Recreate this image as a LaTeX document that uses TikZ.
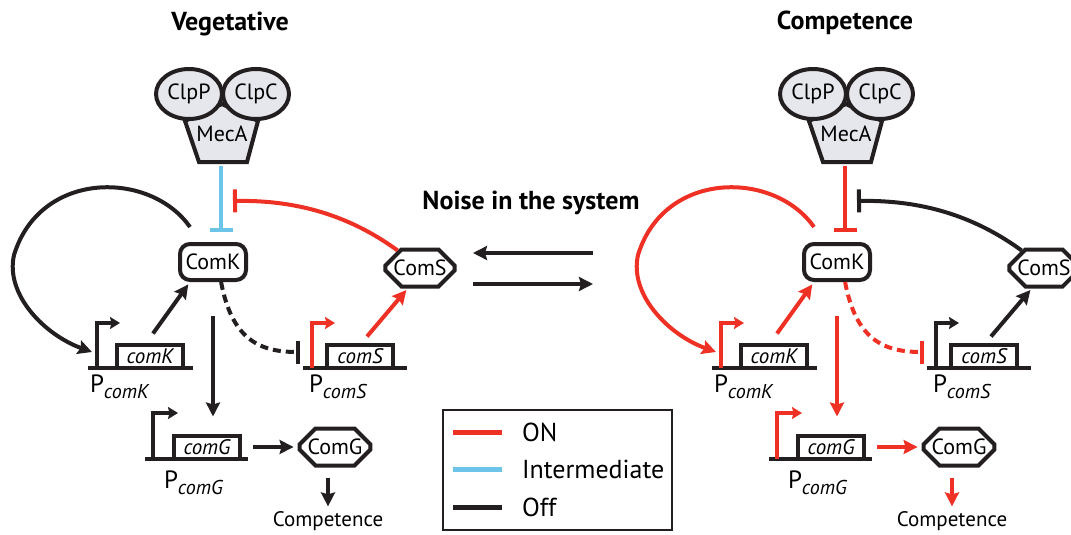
\documentclass[tikz,border=0pt]{standalone}
\usepackage{fontspec}
\setmainfont{PT Sans}
\usepackage{tikz}
\usetikzlibrary{arrows.meta}
\usetikzlibrary{shapes.geometric}
\usetikzlibrary{shapes.misc}
\usetikzlibrary{positioning}

\definecolor{onred}{HTML}{EE3124}
\definecolor{midblue}{HTML}{6CC4E8}
\definecolor{offblk}{HTML}{231F20}
\definecolor{clpgray}{HTML}{E6E7EC}

\newcommand{\promlbl}[1]{{\fontsize{25}{27}\selectfont P}\raisebox{-6pt}{\itshape #1}}

% #1 comK loop, #2 MecA, #3 ComS inhibition, #4 dashed, #5 comS branch, #6 comG branch
\newcommand{\comnet}[6]{%
  \draw[pent] (222,104) -- (185,121) -- (199,162) -- (247,162) -- (258,121) -- cycle;
  \node[clp] (clpP) at (189,94) {ClpP};
  \node[clp] (clpC) at (256,94) {ClpC};
  \node[txt] (mecA) at (222,134) {MecA};
  \coordinate (mecB) at (221,166);
  \node[comk] (comK) at (213,262) {ComK};
  \node[oct]  (comS) at (420,268) {ComS};
  \node[oct]  (comG) at (335,447) {ComG};
  \node[txt]  (compet) at (328,521) {\fontsize{21}{23}\selectfont Competence};
  \node[gene] (gK) at (150,356) {comK};
  \node[gene] (gS) at (360,356) {comS};
  \node[gene] (gG) at (207,447) {comG};
  \draw[offblk] (88,368) -- (193,368);
  \draw[offblk] (303,368) -- (407,368);
  \draw[offblk] (145,459) -- (248,459);
  \coordinate (pK) at (97,368);
  \coordinate (pS) at (312,368);
  \coordinate (pG) at (153,459);
  \coordinate (loopS) at (190,227);
  \coordinate (sBar) at (233,201);
  \coordinate (kBar) at (300,352);
  \node[plbl] (lK) at (88,392) {\promlbl{comK}};
  \node[plbl] (lS) at (307,392) {\promlbl{comS}};
  \node[plbl] (lG) at (162,488) {\promlbl{comG}};
  \draw[prom,#1] (pK) -- ++(0,-45) -- ++(23,0);
  \draw[prom,#5] (pS) -- ++(0,-45) -- ++(23,0);
  \draw[prom,#6] (pG) -- ++(0,-46) -- ++(25,0);
  \draw[act,#1] (loopS) .. controls (150,170) and (40,170) .. (14,255)
                        .. controls (5,295) and (45,335) .. ([xshift=-5pt]pK |- kBar);
  \draw[act,#1,shorten >=3pt] ([shift={(3,-9)}]gK.north) -- (comK.-139);
  \draw[inh,#2,shorten >=10pt] (mecB) -- (mecB |- comK.north);
  \draw[inh,#3] (comS.142) .. controls (345,212) and (290,200) .. (sBar);
  \draw[inh,#4,dash pattern=on 8pt off 5pt] (comK.-68) .. controls (232,340) and (260,352) .. (kBar);
  \draw[act,#5,shorten >=2pt] ([shift={(7,-6)}]gS.north) -- (comS.-121);
  \draw[act,#6,shorten <=34pt,shorten >=17pt] (comK.south) -- (comK.south |- gG.north);
  \draw[act,#6,shorten <=11pt,shorten >=4pt] (gG.east) -- (comG.west);
  \draw[act,#6,shorten <=10pt,shorten >=3pt] (comG.south -| compet) -- (compet.north);
}

\begin{document}
\begin{tikzpicture}[x=1pt, y=-1pt,
                    >={Stealth[length=14pt,width=14pt,inset=2pt]},
                    line width=4pt,
                    act/.style={->},
                    inh/.style={-{Bar[width=23pt]}},
                    prom/.style={-{Stealth[length=10pt,width=12pt,inset=1.5pt]}},
                    txt/.style={font=\fontsize{22}{24}\selectfont, inner sep=0pt},
                    ttl/.style={font=\fontsize{26}{28}\selectfont\bfseries},
                    clp/.style={ellipse, draw=offblk, fill=clpgray, minimum width=66pt,
                                minimum height=50pt, inner sep=0pt, txt},
                    pent/.style={draw=offblk, fill=clpgray, line join=miter},
                    comk/.style={rectangle, draw=offblk, rounded corners=10pt,
                                 minimum width=66pt, minimum height=36pt, txt},
                    oct/.style={chamfered rectangle, draw=offblk, chamfered rectangle xsep=8pt,
                                chamfered rectangle ysep=8pt, minimum width=62pt,
                                minimum height=37pt, inner sep=0pt, txt},
                    gene/.style={rectangle, draw=offblk, minimum width=66pt, minimum height=23pt,
                                 inner sep=0pt, font=\fontsize{21}{23}\selectfont\itshape},
                    plbl/.style={anchor=base west, inner sep=0pt, font=\fontsize{20}{22}\selectfont},
                    leg/.style={anchor=west, inner sep=0pt, font=\fontsize{26}{28}\selectfont}
                    ]
  \useasboundingbox (0,0) rectangle (1071,535);

  \node[ttl] (veg) at (230,24) {Vegetative};
  \node[ttl] (comp) at (845,23) {Competence};

  \begin{scope}
    \comnet{offblk}{midblue}{onred}{offblk}{onred}{offblk}
  \end{scope}
  \begin{scope}[xshift=624pt]
    \comnet{onred}{onred}{offblk}{onred}{offblk}{onred}
  \end{scope}

  % switching between the two states
  \node[ttl] (noise) at (531,203) {Noise in the system};
  \coordinate (nA) at (593,253);
  \coordinate (nB) at (473,253);
  \coordinate (nC) at (473,284);
  \coordinate (nD) at (593,284);
  \draw[act,offblk] (nA) -- (nB);
  \draw[act,offblk] (nC) -- (nD);

  % legend
  \draw[offblk,line width=2.5pt] (443,410) rectangle (672,530);
  \node[leg] (lOn) at (520,432) {ON};
  \node[leg] (lMid) at (520,469) {Intermediate};
  \node[leg] (lOff) at (520,507) {Off};
  \draw[onred,line width=5pt] (453,432) -- (502,432);
  \draw[midblue,line width=5pt] (453,469) -- (502,469);
  \draw[offblk,line width=5pt] (453,507) -- (502,507);
\end{tikzpicture}
\end{document}
